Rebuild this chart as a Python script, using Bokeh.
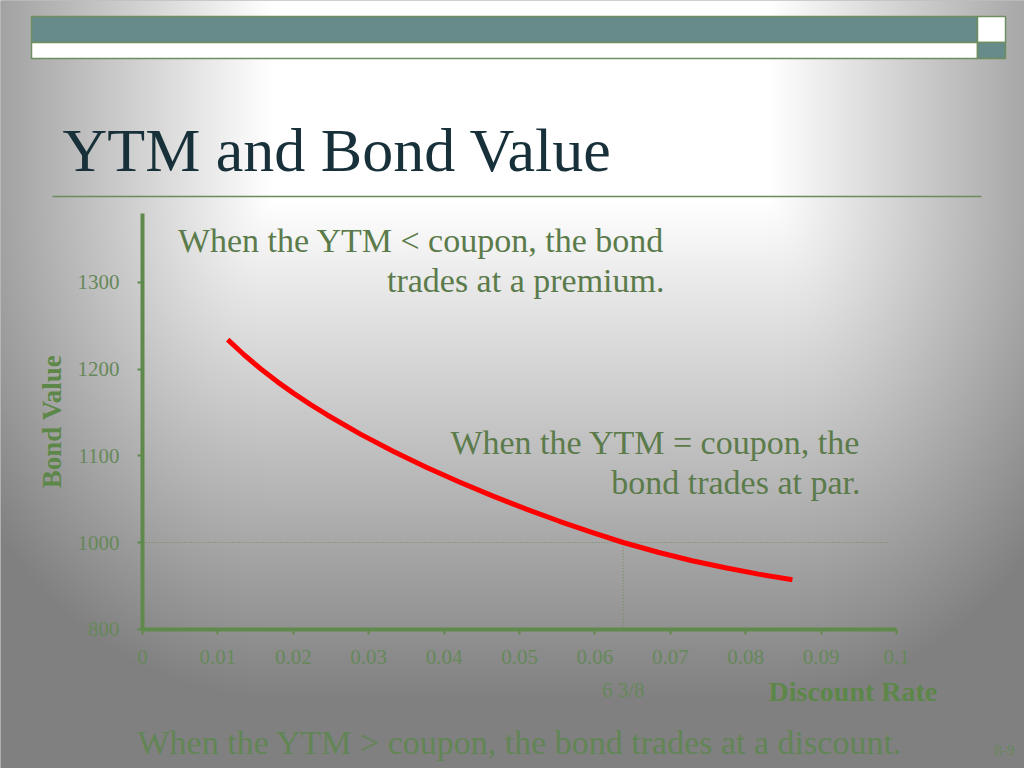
import numpy as np
from bokeh.plotting import figure
from bokeh.models import Range1d, FixedTicker
from bokeh.core.properties import value
from bokeh.embed import file_html
from bokeh.resources import INLINE

# ---------------- data ----------------
rates = [0.0113, 0.0135, 0.0157, 0.0179, 0.0201, 0.0223, 0.0245, 0.0289, 0.0333,
         0.0377, 0.0421, 0.0465, 0.0509, 0.0553, 0.0597, 0.06375, 0.0685, 0.0729,
         0.0773, 0.0817, 0.0862]
bond_values = [1234, 1216.3, 1200.1, 1185.3, 1171.7, 1159, 1147.1, 1125, 1105,
               1086.5, 1069.5, 1053.5, 1038.5, 1024.5, 1011.5, 1000, 988.5, 979,
               970.8, 963.5, 957]
par_rate = 0.06375
par_value = 1000
par_rate_label = "6 3/8"
guide_end_rate = 0.099
x_ticks = [0, 0.01, 0.02, 0.03, 0.04, 0.05, 0.06, 0.07, 0.08, 0.09, 0.1]
x_tick_labels = ["0", "0.01", "0.02", "0.03", "0.04", "0.05", "0.06", "0.07", "0.08", "0.09", "0.1"]
y_ticks = [900, 1000, 1100, 1200, 1300]
y_tick_labels = ["800", "1000", "1100", "1200", "1300"]
x_axis_bounds = (0, 0.1)
y_axis_bounds = (900, 1380)

title = "YTM and Bond Value"
note_premium = ["When the YTM < coupon, the bond", "trades at a premium."]
note_par = ["When the YTM = coupon, the", "bond trades at par."]
note_discount = "When the YTM > coupon, the bond trades at a discount."
x_label = "Discount Rate"
y_label = "Bond Value"
page_no = "8-9"

# ---------------- layout (page pixels) ----------------
W, H = 1024, 768
X0_PX, X_PER = 142.0, 7540.0          # page x of rate 0, px per unit rate
Y1000_PX, Y_PER = 542.0, 0.867        # page y of value 1000, px per unit value
BASE_FIX = 0.345                       # baseline correction (fraction of font size)


def X(px):
    return (px - X0_PX) / X_PER


def Y(py):
    return 1000 + (Y1000_PX - py) / Y_PER


def YB(py, fs):
    """y for a text whose alphabetic baseline should sit at page py."""
    return Y(py - BASE_FIX * fs)


SERIF = value("Liberation Serif")
GREEN_TXT = "#5b7b4b"
GREEN_AX = "#5f8a4c"
GREEN_TICK = "#66885a"
GREEN_LBL = "#5d8748"
TEAL = "#678a8a"
BORDER = "#6f8f60"

p = figure(width=W, height=H,
           x_range=Range1d(X(0), X(W)), y_range=Range1d(Y(H), Y(0)),
           output_backend="svg", toolbar_location=None, min_border=0)
p.grid.visible = False
p.outline_line_color = None
p.background_fill_color = "#808080"
p.border_fill_color = "#808080"

# ---------------- background gradient ----------------
gw, gh = 512, 384
pxs = (np.arange(gw) + 0.5) * W / gw
pys = H - (np.arange(gh) + 0.5) * H / gh
PX, PY = np.meshgrid(pxs, pys)
fx = np.clip((np.abs(PX - 520) - 250) / 370, 0, 1)
fy = np.clip((PY - 200) / 500, 0, 1)
f = np.clip(np.sqrt(fx ** 2 + fy ** 2), 0, 1)
g = (255 - 127 * f).astype(np.uint8)
img = np.zeros((gh, gw), dtype=np.uint32)
v = img.view(np.uint8).reshape(gh, gw, 4)
v[..., 0] = g
v[..., 1] = g
v[..., 2] = g
v[..., 3] = 255
p.image_rgba(image=[img], x=X(0), y=Y(H), dw=X(W) - X(0), dh=Y(0) - Y(H))

# ---------------- header bars ----------------
p.quad(left=[X(31), X(977), X(31), X(977)], right=[X(977), X(1005), X(977), X(1005)],
       top=[Y(16), Y(16), Y(42), Y(42)], bottom=[Y(42), Y(42), Y(58), Y(58)],
       fill_color=[TEAL, "#ffffff", "#ffffff", TEAL], line_color=BORDER, line_width=1.5)

# title + rule
p.text(x=[X(62)], y=[YB(171, 62)], text=[title], text_font=SERIF, text_font_size="62px",
       text_color="#17303a", text_align="left", text_baseline="alphabetic")
p.segment(x0=[X(52)], y0=[Y(196)], x1=[X(981)], y1=[Y(196)], line_color="#6b8c5a", line_width=1.5)

# ---------------- axes ----------------
p.xaxis.fixed_location = y_axis_bounds[0]
p.yaxis.fixed_location = x_axis_bounds[0]
p.xaxis.bounds = x_axis_bounds
p.yaxis.bounds = y_axis_bounds
p.xaxis.ticker = FixedTicker(ticks=x_ticks)
p.yaxis.ticker = FixedTicker(ticks=y_ticks)
p.xaxis.major_label_overrides = dict(zip(x_ticks, x_tick_labels))
p.yaxis.major_label_overrides = dict(zip(y_ticks, y_tick_labels))
for ax in (p.xaxis, p.yaxis):
    ax.axis_line_color = GREEN_AX
    ax.axis_line_width = 4
    ax.major_tick_line_color = GREEN_AX
    ax.major_tick_line_width = 2
    ax.major_tick_out = 5
    ax.major_tick_in = 0
    ax.minor_tick_line_color = None
    ax.major_label_text_font = "Liberation Serif"
    ax.major_label_text_font_size = "21px"
    ax.major_label_text_color = GREEN_TICK
p.xaxis.major_label_standoff = 16
p.yaxis.major_label_standoff = 18

# guide lines
p.segment(x0=[x_axis_bounds[0], par_rate], y0=[par_value, y_axis_bounds[0]],
          x1=[guide_end_rate, par_rate], y1=[par_value, par_value],
          line_color="#6e8a5e", line_width=1, line_dash="1 2")

# curve
p.line(rates, bond_values, line_color="#ff0000", line_width=5, line_join="round")

# ---------------- annotations ----------------
p.text(x=[X(664), X(664)], y=[YB(252, 34), YB(292, 34)], text=note_premium, text_font=SERIF,
       text_font_size="34px", text_color=GREEN_TXT, text_align="right", text_baseline="alphabetic")
p.text(x=[X(860), X(860)], y=[YB(454, 34), YB(494, 34)], text=note_par, text_font=SERIF,
       text_font_size="34px", text_color=GREEN_TXT, text_align="right", text_baseline="alphabetic")
p.text(x=[X(137)], y=[YB(754, 34)], text=[note_discount], text_font=SERIF,
       text_font_size="34px", text_color="#628555", text_align="left", text_baseline="alphabetic")
p.text(x=[par_rate], y=[YB(697, 21)], text=[par_rate_label], text_font=SERIF,
       text_font_size="21px", text_color=GREEN_TICK, text_align="center", text_baseline="alphabetic")
p.text(x=[X(768)], y=[YB(701, 28)], text=[x_label], text_font=SERIF, text_font_style="bold",
       text_font_size="28px", text_color=GREEN_LBL, text_align="left", text_baseline="alphabetic")
p.text(x=[X(63 - 0.42 * 27)], y=[Y(421)], text=[y_label], text_font=SERIF, text_font_style="bold",
       text_font_size="27px", text_color=GREEN_LBL, text_align="center", text_baseline="alphabetic",
       angle=np.pi / 2)
p.text(x=[X(1014)], y=[YB(755, 15)], text=[page_no], text_font=SERIF,
       text_font_size="15px", text_color=GREEN_TICK, text_align="right", text_baseline="alphabetic")

open("out.html", "w").write(file_html(p, INLINE))
